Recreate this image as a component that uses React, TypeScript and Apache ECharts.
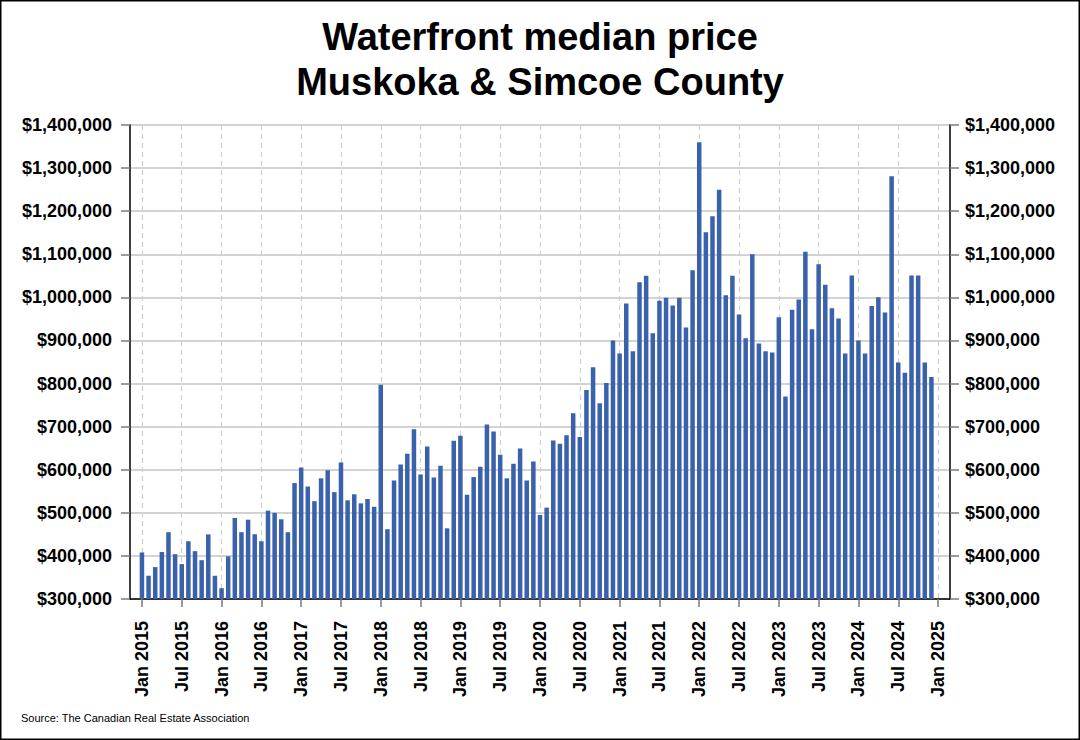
import React, { useEffect, useRef } from "react";
import * as echarts from "echarts";

// Monthly median price, Jan 2015 .. Dec 2024 (one value per month, in $)
const startYear = 2015;
const values2015 = [408000, 354000, 374000, 409000, 455000, 404000, 381000, 434000, 411000, 390000, 450000, 354000];
const values2016 = [325000, 399000, 488000, 455000, 484000, 450000, 434000, 505000, 500000, 485000, 455000, 569000];
const values2017 = [605000, 561000, 527000, 580000, 599000, 548000, 617000, 529000, 543000, 522000, 532000, 514000];
const values2018 = [797000, 462000, 575000, 612000, 637000, 694000, 589000, 654000, 582000, 609000, 464000, 667000];
const values2019 = [679000, 542000, 583000, 607000, 705000, 689000, 635000, 580000, 614000, 649000, 575000, 619000];
const values2020 = [495000, 512000, 668000, 660000, 680000, 731000, 676000, 785000, 838000, 754000, 801000, 900000];
const values2021 = [870000, 986000, 875000, 1035000, 1050000, 917000, 992000, 999000, 981000, 999000, 930000, 1063000];
const values2022 = [1360000, 1151000, 1188000, 1250000, 1005000, 1050000, 960000, 905000, 1100000, 893000, 875000, 872000];
const values2023 = [954000, 770000, 971000, 995000, 1106000, 926000, 1077000, 1029000, 975000, 951000, 870000, 1051000];
const values2024 = [900000, 870000, 980000, 1000000, 965000, 1281000, 849000, 825000, 1051000, 1051000, 849000, 815000];

const allValues = [
  ...values2015, ...values2016, ...values2017, ...values2018, ...values2019,
  ...values2020, ...values2021, ...values2022, ...values2023, ...values2024,
];

const tickLabels = [
  "Jan 2015", "Jul 2015", "Jan 2016", "Jul 2016", "Jan 2017", "Jul 2017", "Jan 2018",
  "Jul 2018", "Jan 2019", "Jul 2019", "Jan 2020", "Jul 2020", "Jan 2021", "Jul 2021",
  "Jan 2022", "Jul 2022", "Jan 2023", "Jul 2023", "Jan 2024", "Jul 2024", "Jan 2025",
];
const tickMonths = tickLabels.map((_, i) => i * 6);

const yMin = 300000;
const yMax = 1400000;
const yStep = 100000;

const titleLine1 = "Waterfront median price";
const titleLine2 = "Muskoka & Simcoe County";
const sourceText = "Source: The Canadian Real Estate Association";

const FONT = "'Liberation Sans', Arial, Helvetica, sans-serif";

export default function App() {
  const ref = useRef<HTMLDivElement>(null);

  useEffect(() => {
    if (!ref.current) return;
    const chart = echarts.init(ref.current, undefined, { renderer: "svg" });
    const data = allValues.map((v, i) => [i, v]);
    const money = (v: number) => "$" + Math.round(v).toLocaleString("en-US");

    const yCommon = {
      type: "value" as const,
      min: yMin,
      max: yMax,
      interval: yStep,
      axisLine: { show: true, onZero: false, lineStyle: { color: "#000", width: 1.5 } },
      axisTick: { show: true, length: 9, lineStyle: { color: "#7a7a7a", width: 1.5 } },
    };

    const titleStyle = {
      fontFamily: FONT,
      fontSize: 38,
      fontWeight: "bold",
      fill: "#000",
      align: "center",
      verticalAlign: "middle",
    };

    chart.setOption({
      animation: false,
      backgroundColor: "#fff",
      textStyle: { fontFamily: FONT },
      grid: {
        left: 130,
        right: 130,
        top: 125,
        bottom: 141,
        containLabel: false,
        outerBoundsMode: "none",
      },
      xAxis: {
        type: "value",
        min: -1.8,
        max: 121.8,
        axisLine: { show: true, onZero: false, lineStyle: { color: "#000", width: 1.5 } },
        axisTick: {
          show: true,
          customValues: tickMonths,
          length: 8,
          lineStyle: { color: "#7a7a7a", width: 1.5 },
        },
        axisLabel: {
          customValues: tickMonths,
          formatter: (v: number) => tickLabels[Math.round(v / 6)] ?? "",
          rotate: 90,
          margin: 22,
          fontSize: 18,
          fontWeight: "bold",
          color: "#000",
          fontFamily: FONT,
        },
        splitLine: {
          show: true,
          lineStyle: { color: "#cfcfcf", width: 1.2, type: [5, 4] },
        },
      },
      yAxis: [
        {
          ...yCommon,
          position: "left",
          axisLabel: {
            formatter: money,
            margin: 18,
            fontSize: 18,
            fontWeight: "bold",
            color: "#000",
            fontFamily: FONT,
          },
          splitLine: { show: true, lineStyle: { color: "#c4c4c4", width: 1.5 } },
        },
        {
          ...yCommon,
          position: "right",
          axisLabel: {
            formatter: money,
            margin: 15,
            fontSize: 18,
            fontWeight: "bold",
            color: "#000",
            fontFamily: FONT,
          },
          splitLine: { show: false },
        },
      ],
      series: [
        {
          type: "bar",
          xAxisIndex: 0,
          yAxisIndex: 0,
          data,
          barWidth: 4.5,
          itemStyle: { color: "#3a61ab" },
        },
      ],
      graphic: [
        {
          type: "text",
          x: 540,
          y: 37,
          style: { ...titleStyle, text: titleLine1 },
        },
        {
          type: "text",
          x: 540,
          y: 82,
          style: { ...titleStyle, text: titleLine2 },
        },
        {
          type: "text",
          x: 21,
          y: 718,
          style: {
            text: sourceText,
            fontFamily: FONT,
            fontSize: 11,
            fill: "#000",
            verticalAlign: "middle",
          },
        },
        {
          type: "rect",
          shape: { x: 0.75, y: 0.75, width: 1078.5, height: 738.5 },
          style: { fill: "none", stroke: "#000", lineWidth: 1.5 },
          silent: true,
        },
      ],
    });

    return () => chart.dispose();
  }, []);

  return (
    <div
      ref={ref}
      style={{ position: "fixed", left: 0, top: 0, width: 1080, height: 740, background: "#fff" }}
    />
  );
}
